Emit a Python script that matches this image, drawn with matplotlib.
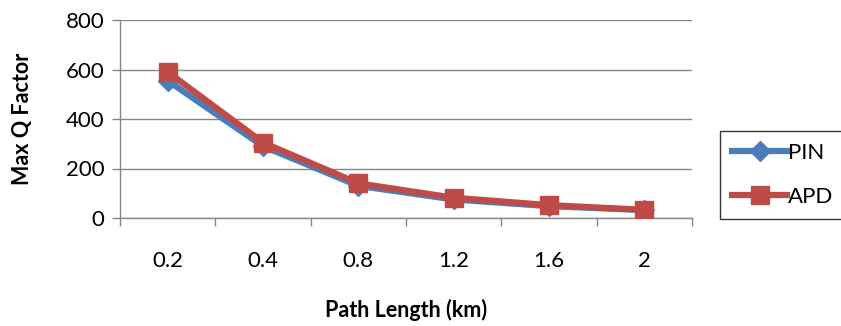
import matplotlib
matplotlib.use("Agg")
import matplotlib.pyplot as plt
import numpy as np

categories = ["0.2", "0.4", "0.8", "1.2", "1.6", "2"]
pin = [555, 290, 130, 75, 48, 32]
apd = [590, 305, 140, 82, 52, 33]

plt.rcParams['font.family'] = ['Lato', 'DejaVu Sans']

fig = plt.figure(figsize=(8.41, 3.26), dpi=100)
ax = fig.add_axes([120/841, 1-218/326, (692-120)/841, (218-20)/326])

x = np.arange(len(categories))
ax.plot(x, pin, color='#4A7EBB', lw=4.5, marker='D', ms=10, label='PIN', zorder=3)
ax.plot(x, apd, color='#BE4B48', lw=4.5, marker='s', ms=13, label='APD', zorder=4)

ax.set_xlim(-0.5, len(categories)-0.5)
ax.set_ylim(0, 800)
ax.set_yticks([0, 200, 400, 600, 800])
ax.set_xticks(x)
ax.set_xticklabels(categories)
ax.set_xticks(np.arange(-0.5, len(categories), 1), minor=True)
ax.tick_params(axis='x', which='major', length=0, pad=24, labelsize=16)
ax.tick_params(axis='x', which='minor', length=6, color='#868686', width=1)
ax.tick_params(axis='y', length=6, color='#868686', width=1, labelsize=16, pad=5)
ax.grid(axis='y', color='#868686', lw=1)
ax.set_axisbelow(True)
for s in ['top', 'right']:
    ax.spines[s].set_visible(False)
for s in ['left', 'bottom']:
    ax.spines[s].set_color('#868686')
    ax.spines[s].set_linewidth(1)

ax.set_ylabel('Max Q Factor', fontsize=15.5, fontweight='bold', labelpad=24)
ax.set_xlabel('Path Length (km)', fontsize=15.5, fontweight='bold', labelpad=20)

leg = fig.legend(loc='center right', bbox_to_anchor=(846/841, 1-175/326), frameon=True,
                 fancybox=False, edgecolor='black', fontsize=16, handlelength=2.5,
                 borderpad=0.55, labelspacing=1.1, handletextpad=0.05, borderaxespad=0)
leg.get_frame().set_linewidth(1)

fig.savefig('out.png', dpi=100)
